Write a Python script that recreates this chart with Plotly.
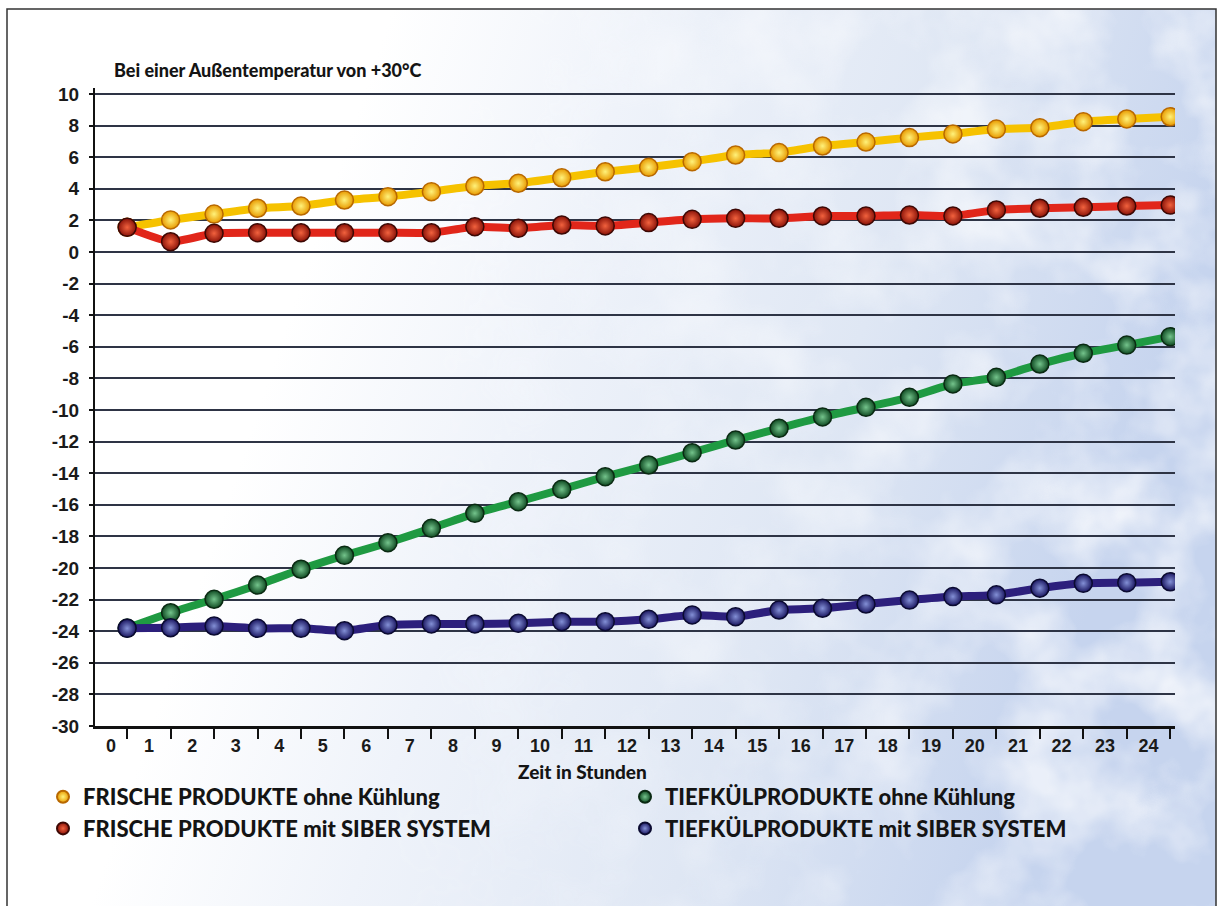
import base64
import plotly.graph_objects as go

# Hours after switch-off (one reading per hour)
hours = list(range(25))

# Temperatures in °C
frisch_ohne = [1.56, 2.03, 2.40, 2.77, 2.91, 3.29, 3.50, 3.82, 4.18, 4.35, 4.70, 5.08, 5.36,
               5.72, 6.14, 6.29, 6.71, 6.96, 7.24, 7.47, 7.78, 7.87, 8.25, 8.42, 8.56]
frisch_siber = [1.56, 0.65, 1.18, 1.22, 1.22, 1.22, 1.22, 1.22, 1.60, 1.50, 1.71, 1.65, 1.86,
                2.07, 2.13, 2.13, 2.28, 2.28, 2.34, 2.28, 2.66, 2.77, 2.83, 2.91, 2.97]
tief_ohne = [-23.80, -22.83, -21.98, -21.08, -20.08, -19.20, -18.40, -17.49, -16.54, -15.80,
             -15.02, -14.22, -13.48, -12.70, -11.90, -11.16, -10.44, -9.83, -9.20, -8.35,
             -7.93, -7.09, -6.41, -5.89, -5.36]
tief_siber = [-23.82, -23.78, -23.67, -23.82, -23.82, -23.97, -23.60, -23.54, -23.54, -23.50,
              -23.40, -23.40, -23.25, -22.97, -23.08, -22.66, -22.55, -22.28, -22.03, -21.81,
              -21.70, -21.28, -20.97, -20.93, -20.87]

series_names = [
    "FRISCHE PRODUKTE ohne Kühlung",
    "FRISCHE PRODUKTE mit SIBER SYSTEM",
    "TIEFKÜLPRODUKTE ohne Kühlung",
    "TIEFKÜLPRODUKTE mit SIBER SYSTEM",
]

y_ticks = list(range(10, -31, -2))
y_ticktext = [str(v) for v in y_ticks]
x_label_pos = [-0.37] + [k - 0.5 for k in range(1, 25)]
x_ticktext = [str(k) for k in range(25)]

title_text = "Bei einer Außentemperatur von +30°C"
x_title = "Zeit in Stunden"

# style per series: line colour, ball edge, ball centre, ball outline
styles = [
    dict(line="#f6c200", edge="#e89a00", center="#fff27a", outline="#b86800"),
    dict(line="#e1261a", edge="#8a1208", center="#f2623e", outline="#3c0804"),
    dict(line="#1f9a42", edge="#0f4a22", center="#74c48c", outline="#0a2a12"),
    dict(line="#2c1f7c", edge="#1a1660", center="#8390d6", outline="#0a0a30"),
]
data_sets = [frisch_ohne, frisch_siber, tief_ohne, tief_siber]
legend_ids = ["legend", "legend", "legend2", "legend2"]

fig = go.Figure()

for vals, st, name in zip(data_sets, styles, series_names):
    fig.add_trace(go.Scatter(
        x=hours, y=vals, mode="lines+markers", name=name, showlegend=False,
        line=dict(color=st["line"], width=8, shape="spline", smoothing=0.5),
        marker=dict(size=18, color=st["edge"],
                    gradient=dict(type="radial", color=st["center"]),
                    line=dict(color=st["outline"], width=1.5)),
        hoverinfo="x+y+name",
    ))

# legend entries (ball only)
for i, (st, name, lg) in enumerate(zip(styles, series_names, legend_ids)):
    fig.add_trace(go.Scatter(
        x=[None], y=[None], mode="markers", name=name, legend=lg,
        legendgroup=f"g{i}",
        marker=dict(size=16, color=st["edge"],
                    gradient=dict(type="radial", color=st["center"]),
                    line=dict(color=st["outline"], width=1)),
    ))

# background: white fading into a pale cloudy blue
svg = """<svg xmlns='http://www.w3.org/2000/svg' width='1209' height='897' viewBox='0 0 1209 897' preserveAspectRatio='none'>
<defs>
<linearGradient id='g' x1='0' y1='0' x2='1' y2='0.25'>
<stop offset='0' stop-color='#ffffff'/>
<stop offset='0.3' stop-color='#ffffff'/>
<stop offset='0.5' stop-color='#eff3fa'/>
<stop offset='0.75' stop-color='#dfe7f4'/>
<stop offset='1' stop-color='#c6d4ee'/>
</linearGradient>
<linearGradient id='m' x1='0' y1='0' x2='1' y2='0'>
<stop offset='0.3' stop-color='#000'/>
<stop offset='1' stop-color='#fff'/>
</linearGradient>
<mask id='mk'><rect width='1209' height='897' fill='url(#m)'/></mask>
<filter id='c' x='0' y='0' width='100%' height='100%'>
<feTurbulence type='fractalNoise' baseFrequency='0.011' numOctaves='4' seed='7'/>
<feColorMatrix type='matrix' values='0 0 0 0 1 0 0 0 0 1 0 0 0 0 1 2.4 0 0 0 -0.95'/>
</filter>
</defs>
<rect width='1209' height='897' fill='url(#g)'/>
<rect width='1209' height='897' filter='url(#c)' mask='url(#mk)' opacity='0.8'/>
</svg>"""
bg_src = "data:image/svg+xml;base64," + base64.b64encode(svg.encode("utf-8")).decode("ascii")

W, H = 1219, 906
ML, MR, MT, MB = 95, 44, 88, 180
PW, PH = W - ML - MR, H - MT - MB


def px(xp):
    return (xp - ML) / PW


def py(yp):
    return (H - MB - yp) / PH


fig.add_layout_image(dict(
    source=bg_src, xref="paper", yref="paper",
    x=px(7), y=py(9), sizex=(1216 - 7) / PW, sizey=(906 - 9) / PH,
    sizing="stretch", xanchor="left", yanchor="top", layer="below",
))

# frame
fig.add_shape(type="rect", xref="paper", yref="paper",
              x0=px(7), x1=px(1216), y0=py(912), y1=py(9),
              line=dict(color="#333333", width=1.5), fillcolor="rgba(0,0,0,0)")

ytick_font = dict(family="Liberation Sans, Arial, sans-serif", size=19, color="#1a1a1a", weight="bold")
xtick_font = dict(family="Liberation Sans, Arial, sans-serif", size=18, color="#1a1a1a", weight="bold")
title_font = dict(family="Lato, sans-serif", size=18, color="#141414", weight=900)
xtitle_font = dict(family="Lato, sans-serif", size=19, color="#141414", weight=900)
legend_font = dict(family="Lato, sans-serif", size=22, color="#141414", weight=900)

fig.add_annotation(text=title_text, xref="paper", yref="paper", x=px(112), y=py(70),
                   xanchor="left", yanchor="middle", showarrow=False, font=title_font)
fig.add_annotation(text=x_title, xref="paper", yref="paper", x=px(582), y=py(771),
                   xanchor="center", yanchor="middle", showarrow=False, font=xtitle_font)

fig.update_layout(
    width=W, height=H,
    margin=dict(l=ML, r=MR, t=MT, b=MB),
    paper_bgcolor="white",
    plot_bgcolor="rgba(0,0,0,0)",
    xaxis=dict(
        range=[-0.74, 24.11], showgrid=False, zeroline=False,
        showline=True, linecolor="#111111", linewidth=3,
        tickmode="array", tickvals=x_label_pos, ticktext=x_ticktext,
        ticks="", ticklabelstandoff=1, tickfont=xtick_font,
        minor=dict(tickmode="array", tickvals=hours, ticks="outside",
                   ticklen=10, tickwidth=2, tickcolor="#111111", showgrid=False),
    ),
    yaxis=dict(
        range=[-30, 10.38], showgrid=True, gridcolor="#2e3445", gridwidth=1.5,
        zeroline=False, showline=True, linecolor="#111111", linewidth=2,
        tickmode="array", tickvals=y_ticks, ticktext=y_ticktext,
        ticks="outside", ticklen=4, tickwidth=1.5, tickcolor="#111111",
        ticklabelstandoff=6, tickfont=ytick_font,
    ),
    legend=dict(x=px(43), y=py(776), xanchor="left", yanchor="top",
                bgcolor="rgba(0,0,0,0)", font=legend_font, traceorder="grouped",
                tracegroupgap=0, itemsizing="constant", itemwidth=30),
    legend2=dict(x=px(625), y=py(776), xanchor="left", yanchor="top",
                 bgcolor="rgba(0,0,0,0)", font=legend_font, traceorder="grouped",
                 tracegroupgap=0, itemsizing="constant", itemwidth=30),
    showlegend=True,
)

fig.write_html("out.html")
